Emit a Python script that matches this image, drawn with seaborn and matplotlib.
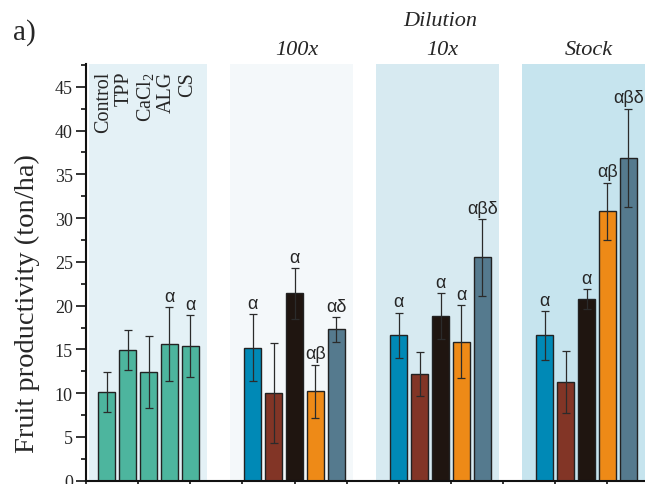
import numpy as np
import pandas as pd
import matplotlib
matplotlib.use("Agg")
import matplotlib.pyplot as plt
import matplotlib.transforms as mtransforms
from matplotlib.ticker import MultipleLocator, NullFormatter
import seaborn as sns

# ---------------- data ----------------
groups = ["Control", "100x", "10x", "Stock"]
treatments = ["Control", "TPP", "CaCl$_2$", "ALG", "CS"]

control_vals = [10.1, 14.9, 12.4, 15.6, 15.4]
control_err = [2.3, 2.3, 4.1, 4.2, 3.5]
control_lbl = ["", "", "", "α", "α"]

dil100_vals = [15.2, 10.0, 21.4, 10.2, 17.3]
dil100_err = [3.85, 5.75, 2.9, 3.05, 1.4]
dil100_lbl = ["α", "", "α", "αβ", "αδ"]

dil10_vals = [16.6, 12.2, 18.8, 15.9, 25.5]
dil10_err = [2.6, 2.5, 2.65, 4.15, 4.4]
dil10_lbl = ["α", "", "α", "α", "αβδ"]

stock_vals = [16.6, 11.3, 20.75, 30.8, 36.9]
stock_err = [2.8, 3.55, 1.1, 3.25, 5.6]
stock_lbl = ["α", "", "α", "αβ", "αβδ"]

group_titles = ["", "100x", "10x", "Stock"]
super_title = "Dilution"
panel_label = "a)"
y_label = "Fruit productivity (ton/ha)"
y_ticks = [0, 5, 10, 15, 20, 25, 30, 35, 40, 45]

# ---------------- styles ----------------
control_color = "#4db59e"
treat_colors = ["#0089b6", "#823526", "#1f1510", "#ee8a17", "#557a8e"]
bg_colors = ["#e4f1f6", "#f4f8fa", "#d7eaf1", "#c6e4ee"]
group_step = 7

sns.set_style("ticks")
plt.rcParams["font.family"] = ["Liberation Serif", "DejaVu Serif"]
plt.rcParams["mathtext.fontset"] = "custom"
plt.rcParams["mathtext.rm"] = "Liberation Serif"
plt.rcParams["mathtext.it"] = "Liberation Serif:italic"

all_vals = [control_vals, dil100_vals, dil10_vals, stock_vals]
all_err = [control_err, dil100_err, dil10_err, stock_err]
all_lbl = [control_lbl, dil100_lbl, dil10_lbl, stock_lbl]

rows = []
for g, gname in enumerate(groups):
    for i, t in enumerate(treatments):
        rows.append({
            "key": f"{gname}-{i}",
            "pos": g * group_step + (i - 2),
            "value": all_vals[g][i],
            "err": all_err[g][i],
            "label": all_lbl[g][i],
            "color": control_color if g == 0 else treat_colors[i],
        })
df = pd.DataFrame(rows)
palette = dict(zip(df["key"], df["color"]))

fig = plt.figure(figsize=(6.45, 4.85), dpi=100)
ax = fig.add_axes([86 / 645, 3.3 / 485, 559 / 645, 416.7 / 485])

# background panels
for g in range(len(groups)):
    c = g * group_step
    left = max(c - 3.1, -2.85)
    ax.axvspan(left, c + 2.8, color=bg_colors[g], zorder=0, lw=0)

sns.barplot(data=df, x="pos", y="value", hue="key", palette=palette,
            native_scale=True, dodge=False, legend=False, width=0.82,
            saturation=1, edgecolor="#222222", linewidth=1.0,
            errorbar=None, ax=ax, zorder=2)

ax.errorbar(df["pos"], df["value"], yerr=df["err"], fmt="none",
            ecolor="#2b2b2b", elinewidth=0.9, capsize=3, capthick=0.9,
            zorder=3)

for _, r in df.iterrows():
    if r["label"]:
        ax.annotate(r["label"], xy=(r["pos"], r["value"] + r["err"]),
                    xytext=(0, 4.5), textcoords="offset points",
                    ha="center", va="baseline", fontsize=13,
                    family=["Liberation Sans", "DejaVu Sans"], zorder=4)

ax.set_xlim(-3, 23.8)
ax.set_ylim(0, 47.6)

ax.set_yticks(y_ticks)
ax.set_yticklabels([str(v) for v in y_ticks], fontsize=13)
ax.yaxis.set_minor_locator(MultipleLocator(2.5))
ax.xaxis.set_major_locator(MultipleLocator(2.5, offset=2))
ax.xaxis.set_major_formatter(NullFormatter())
ax.set_xlabel("")
ax.tick_params(axis="both", which="major", direction="out", length=7,
               width=1.2, color="#111111", pad=2.5)
ax.tick_params(axis="y", which="minor", direction="out", length=3.5,
               width=1.2, color="#111111")
sns.despine(ax=ax)
for s in ["left", "bottom"]:
    ax.spines[s].set_linewidth(1.5)
    ax.spines[s].set_color("#111111")

ax.set_ylabel(y_label, fontsize=20.5, va="center", ha="center")
ax.yaxis.set_label_coords(-0.105, 0.427)

# texts above the axes
trans = mtransforms.blended_transform_factory(ax.transData, fig.transFigure)
for g, title in enumerate(group_titles):
    if title:
        ax.text(g * group_step + 0.1, 1 - 55 / 485, title, transform=trans,
                ha="center", va="baseline", fontsize=16, style="italic",
                clip_on=False)
ax.text(2 * group_step, 1 - 26 / 485, super_title, transform=trans,
        ha="center", va="baseline", fontsize=16, style="italic", clip_on=False)
fig.text(13 / 645, 1 - 40 / 485, panel_label, ha="left", va="baseline",
         fontsize=21)

# treatment names inside the control panel
for i, t in enumerate(treatments):
    ax.text(i - 2 - 0.15, 1 - 72 / 485, t, transform=trans, rotation=90,
            ha="center", va="top", fontsize=14.5)

fig.savefig("out.png", dpi=100)
